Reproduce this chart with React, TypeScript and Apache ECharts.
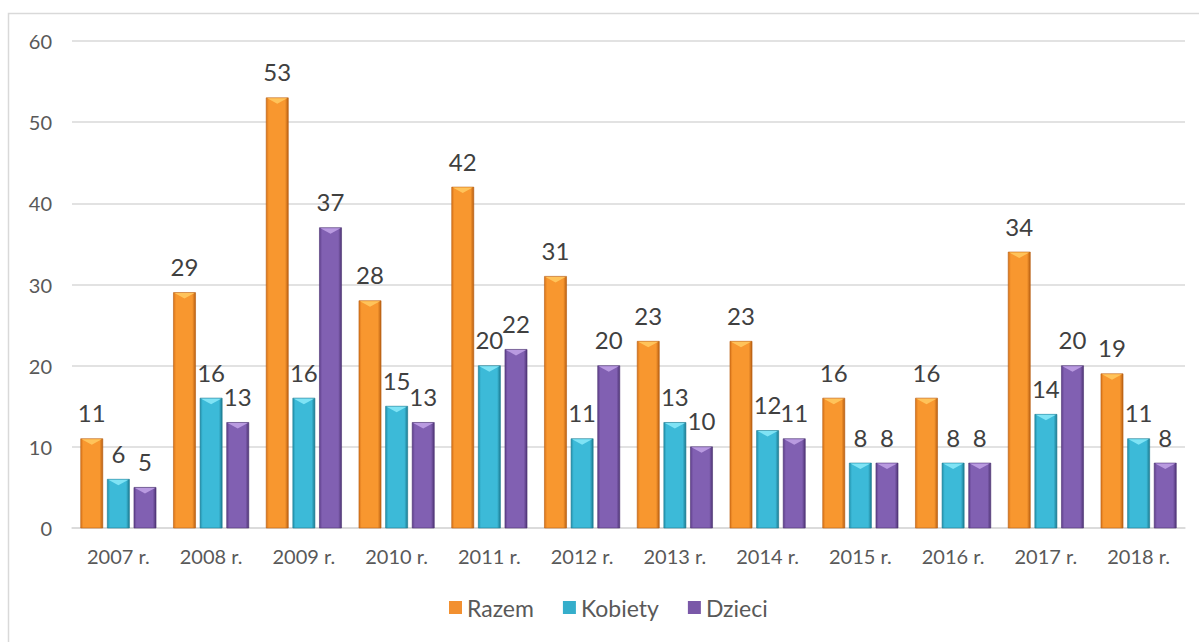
import React, { useEffect, useRef } from "react";
import * as echarts from "echarts";

const categories = ["2007 r.", "2008 r.", "2009 r.", "2010 r.", "2011 r.", "2012 r.", "2013 r.", "2014 r.", "2015 r.", "2016 r.", "2017 r.", "2018 r."];
const razem = [11, 29, 53, 28, 42, 31, 23, 23, 16, 16, 34, 19];
const kobiety = [6, 16, 16, 15, 20, 11, 13, 12, 8, 8, 14, 11];
const dzieci = [5, 13, 37, 13, 22, 20, 10, 11, 8, 8, 20, 8];
const seriesNames = ["Razem", "Kobiety", "Dzieci"];

const palettes = [
  { edge: "#d9741a", mid: "#f8972f", light: "#ffc35a", dark: "#b85f12", base: "#f29030" },
  { edge: "#2392ad", mid: "#3cbad8", light: "#7fe3f5", dark: "#1c7a90", base: "#35aecb" },
  { edge: "#5e3f8a", mid: "#8160b2", light: "#b99ae0", dark: "#4e3474", base: "#7a58a8" },
];

const FONT = "Lato, 'Open Sans', sans-serif";

export default function App() {
  const ref = useRef<HTMLDivElement>(null);
  useEffect(() => {
    document.body.style.margin = "0";
    const chart = echarts.init(ref.current!, null, { renderer: "svg" });
    const all = [razem, kobiety, dzieci];
    const offsets = [-1, 0, 1];
    const series = all.map((vals, si) => {
      const p = palettes[si];
      return {
        type: "custom",
        name: seriesNames[si],
        itemStyle: { color: p.base },
        encode: { x: 0, y: 1 },
        data: vals.map((v, i) => [i, v]),
        renderItem: (params: any, api: any) => {
          const cat = api.value(0);
          const val = api.value(1);
          const top = api.coord([cat, val]);
          const base = api.coord([cat, 0]);
          const catW = api.size([1, 0])[0];
          const bw = catW * 0.238;
          const cx = top[0] + offsets[si] * catW * 0.287;
          const x0 = cx - bw / 2;
          const y0 = top[1];
          const h = base[1] - top[1];
          const tri = 6;
          return {
            type: "group",
            children: [
              {
                type: "rect",
                shape: { x: x0, y: y0, width: bw, height: h },
                style: {
                  fill: new echarts.graphic.LinearGradient(0, 0, 1, 0, [
                    { offset: 0, color: p.edge },
                    { offset: 0.12, color: p.mid },
                    { offset: 0.85, color: p.mid },
                    { offset: 1, color: p.dark },
                  ]),
                  stroke: p.dark,
                  lineWidth: 0.6,
                },
              },
              {
                type: "polygon",
                shape: { points: [[x0 + 1, y0 + 0.5], [x0 + bw - 1, y0 + 0.5], [cx, y0 + tri]] },
                style: { fill: p.light },
              },
              {
                type: "text",
                x: cx,
                y: y0 - 14,
                style: {
                  text: String(val),
                  align: "center",
                  verticalAlign: "bottom",
                  fontSize: 24,
                  fontFamily: FONT,
                  fill: "#404040",
                },
              },
            ],
          };
        },
      };
    });
    chart.setOption({
      animation: false,
      backgroundColor: "#ffffff",
      graphic: [
        {
          type: "rect",
          shape: { x: 8.5, y: 13.5, width: 1200, height: 650 },
          style: { fill: "none", stroke: "#d9d9d9", lineWidth: 1.5 },
          silent: true,
        },
      ],
      grid: { left: 72, right: 14, top: 41, bottom: 114 },
      legend: {
        data: seriesNames,
        bottom: 18,
        left: 444,
        icon: "rect",
        itemWidth: 13,
        itemHeight: 13,
        itemGap: 29,
        textStyle: { fontSize: 23, color: "#595959", fontFamily: FONT },
      },
      xAxis: {
        type: "category",
        data: categories,
        axisLine: { lineStyle: { color: "#d9d9d9", width: 1.5 } },
        axisTick: { show: false },
        axisLabel: { fontSize: 20, color: "#595959", margin: 18, fontFamily: FONT },
      },
      yAxis: {
        type: "value",
        min: 0,
        max: 60,
        interval: 10,
        axisLine: { show: false },
        axisTick: { show: false },
        splitLine: { lineStyle: { color: "#d9d9d9", width: 1.5 } },
        axisLabel: { fontSize: 20, color: "#595959", margin: 20, fontFamily: FONT },
      },
      series,
    } as any);
    return () => chart.dispose();
  }, []);
  return <div ref={ref} style={{ width: 1199, height: 642 }} />;
}
